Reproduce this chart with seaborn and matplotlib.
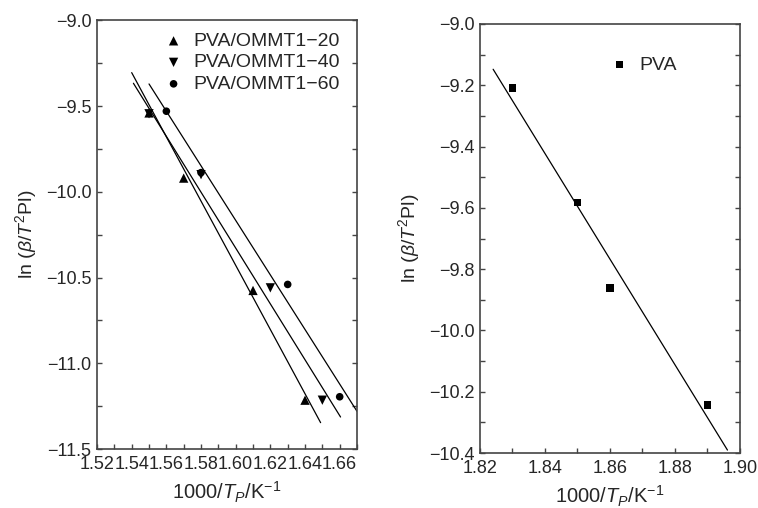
import numpy as np
import pandas as pd
import matplotlib
matplotlib.use("Agg")
import matplotlib.pyplot as plt
import seaborn as sns
from matplotlib.ticker import MultipleLocator

# values
x_omm20 = [1.55, 1.57, 1.61, 1.64]
y_omm20 = [-9.54, -9.92, -10.575, -11.215]
x_omm40 = [1.55, 1.58, 1.62, 1.65]
y_omm40 = [-9.545, -9.90, -10.56, -11.215]
x_omm60 = [1.56, 1.58, 1.63, 1.66]
y_omm60 = [-9.53, -9.888, -10.54, -11.195]

# fitted lines (end points as drawn in the reference)
fit20_x = [1.540, 1.649]
fit20_y = [-9.305, -11.346]
fit40_x = [1.541, 1.6605]
fit40_y = [-9.367, -11.313]
fit60_x = [1.550, 1.670]
fit60_y = [-9.371, -11.28]

x_pva = [1.83, 1.85, 1.86, 1.89]
y_pva = [-9.21, -9.582, -9.862, -10.243]
fitpva_x = [1.8241, 1.8962]
fitpva_y = [-9.148, -10.39]

labels = ["PVA/OMMT1\u221220", "PVA/OMMT1\u221240", "PVA/OMMT1\u221260"]

sns.set_style("ticks")
plt.rcParams["font.family"] = ["Liberation Sans", "DejaVu Sans"]
plt.rcParams["mathtext.fontset"] = "custom"
plt.rcParams["mathtext.rm"] = "Liberation Sans"
plt.rcParams["mathtext.it"] = "Liberation Sans:italic"

fig = plt.figure(figsize=(7.58, 5.08), dpi=100)
ax1 = fig.add_axes([0.128, 0.116, 0.343, 0.844])
ax2 = fig.add_axes([0.633, 0.108, 0.343, 0.845])

# left panel
for fx, fy in [(fit20_x, fit20_y), (fit40_x, fit40_y), (fit60_x, fit60_y)]:
    sns.lineplot(x=fx, y=fy, color="black", lw=0.9, ax=ax1, legend=False)
for xs, ys, lab, mk, sz in [(x_omm20, y_omm20, labels[0], "^", 45),
                            (x_omm40, y_omm40, labels[1], "v", 45),
                            (x_omm60, y_omm60, labels[2], "o", 30)]:
    sns.scatterplot(x=xs, y=ys, marker=mk, s=sz, color="black", edgecolor="none",
                    label=lab, ax=ax1, zorder=3)
ax1.set_xlim(1.52, 1.67)
ax1.set_ylim(-11.5, -9.0)
ax1.xaxis.set_major_locator(MultipleLocator(0.02))
ax1.xaxis.set_minor_locator(MultipleLocator(0.01))
ax1.yaxis.set_major_locator(MultipleLocator(0.5))
ax1.yaxis.set_minor_locator(MultipleLocator(0.25))
ax1.legend(loc="upper left", bbox_to_anchor=(0.257, 0.972), frameon=False,
           borderpad=0, borderaxespad=0, handlelength=1.0, handletextpad=0.5,
           labelspacing=0.2, fontsize=14)

# right panel
sns.lineplot(x=fitpva_x, y=fitpva_y, color="black", lw=0.9, ax=ax2, legend=False)
sns.scatterplot(x=x_pva, y=y_pva, marker="s", s=30, color="black", edgecolor="none",
                label="PVA", ax=ax2, zorder=3)
ax2.set_xlim(1.82, 1.90)
ax2.set_ylim(-10.4, -9.0)
ax2.xaxis.set_major_locator(MultipleLocator(0.02))
ax2.xaxis.set_minor_locator(MultipleLocator(0.01))
ax2.yaxis.set_major_locator(MultipleLocator(0.2))
ax2.yaxis.set_minor_locator(MultipleLocator(0.1))
ax2.legend(loc="upper left", bbox_to_anchor=(0.5, 0.925), frameon=False,
           borderpad=0, borderaxespad=0, handlelength=1.0, handletextpad=0.5,
           fontsize=14)

for ax in (ax1, ax2):
    ax.set_xlabel(r"1000/$T_P$/K$^{-1}$", fontsize=14.5, labelpad=5)
    ax.set_ylabel(r"ln ($\beta$/$T^2$Pl)", fontsize=14, labelpad=5)
    ax.tick_params(which="both", direction="in", length=3.5, width=1,
                   right=True, top=False, labelsize=13, color="#444444")
    ax.tick_params(axis="x", pad=5)
    ax.tick_params(axis="y", pad=4)
    for sp in ax.spines.values():
        sp.set_color("#444444")
        sp.set_linewidth(1.2)

fig.savefig("out.png", dpi=100)
